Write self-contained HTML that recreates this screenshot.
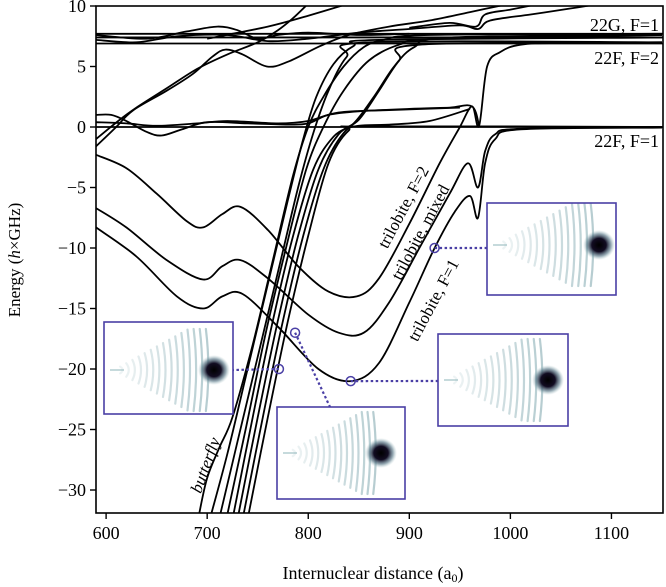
<!DOCTYPE html>
<html><head><meta charset="utf-8"><style>
html,body{margin:0;padding:0;background:#fff;}
svg{display:block;font-family:"Liberation Serif",serif;}
</style></head><body>
<svg id="chart" width="666" height="587" viewBox="0 0 666 587">
<defs>
<radialGradient id="blob"><stop offset="0" stop-color="#000"/><stop offset="0.45" stop-color="#120c22"/><stop offset="0.75" stop-color="#4f6f80" stop-opacity="0.6"/><stop offset="1" stop-color="#9fc0c4" stop-opacity="0"/></radialGradient>
<clipPath id="plotclip"><rect x="96" y="6" width="567" height="507"/></clipPath>
</defs>
<g id="curves" clip-path="url(#plotclip)"></g>
<g id="insets"></g>
<rect x="96" y="6" width="567" height="507" fill="none" stroke="#000" stroke-width="1.6"/>
<g id="axes"></g>
<text x="20" y="260" font-size="17" text-anchor="middle" transform="rotate(-90 20 260)">Energy (<tspan font-style="italic">h</tspan>×GHz)</text>
<text x="373" y="579" font-size="18" text-anchor="middle">Internuclear distance (a<tspan font-size="12" dy="3">0</tspan><tspan dy="-3">)</tspan></text>
<text x="659" y="31" font-size="18" text-anchor="end">22G, F=1</text>
<text x="659" y="64" font-size="18" text-anchor="end">22F, F=2</text>
<text x="659" y="147" font-size="18" text-anchor="end">22F, F=1</text>
<text x="403" y="213" font-size="17" text-anchor="middle" transform="rotate(-62 403 207)">trilobite, F=2</text>
<text x="420" y="238" font-size="17" text-anchor="middle" transform="rotate(-62 420 232)">trilobite, mixed</text>
<text x="433" y="306" font-size="17" text-anchor="middle" transform="rotate(-62 433 300)">trilobite, F=1</text>
<text x="205" y="471" font-size="17" font-style="italic" text-anchor="middle" transform="rotate(-70 205 465)">butterfly</text>
</svg>
<script>
const xTicks = [600,700,800,900,1000,1100];
const yTicks = [10,5,0,-5,-10,-15,-20,-25,-30];
const levelLines = [0, 6.9, 7.4, 7.7];
const triloF2 = [[590,-2.3],[620,-3.4],[650,-5.5],[680,-7.8],[696,-8.3],[715,-7.2],[733,-6.6],[760,-8.5],[790,-11.5],[820,-13.6],[848,-14],[870,-12.5],[900,-8],[930,-3],[950,0],[962,1.7],[969,0.1],[977,5],[990,6.2],[1010,6.8],[1050,6.95],[1150,6.95]];
const triloMixed = [[590,-6.7],[620,-8.3],[660,-11],[696,-12.6],[715,-11.5],[733,-11],[760,-12.5],[800,-15.5],[830,-17],[855,-17],[880,-14.5],[910,-10],[940,-5.5],[958,-3],[968,-5],[975,-2],[985,-0.6],[1010,-0.15],[1150,0]];
const triloF1 = [[590,-8.3],[630,-10.7],[670,-14],[696,-15],[715,-14],[735,-13.8],[770,-16.5],[810,-20],[842,-21],[870,-19.5],[900,-14.5],[925,-10],[945,-7],[960,-5.7],[968,-7.5],[975,-3],[985,-1],[1010,-0.2],[1150,-0.05]];
const b1 = [[692,-32],[700,-29],[712,-26.5],[725,-24],[745,-18],[765,-11],[785,-4],[800,0],[815,2.5],[835,5],[855,6.6],[875,7.2],[920,7.6],[1150,7.7]];
const b2 = [[704,-32],[720,-27],[740,-20],[760,-13],[780,-6],[795,-1],[808,2.5],[825,5.2],[845,6.7],[870,7.2],[1150,7.4]];
const b3 = [[713,-32],[730,-26],[750,-19],[770,-12],[790,-5],[805,-0.5],[820,3],[838,5.8],[860,7],[1150,7.0]];
const b4 = [[720,-32],[738,-25],[758,-17],[778,-10],[798,-3.5],[815,0],[835,3],[860,5.5],[890,6.8],[930,7.3],[1150,7.6]];
const b5 = [[726,-32],[745,-24],[765,-16],[785,-9],[805,-3.5],[825,-0.8],[845,0.3],[865,2.5],[885,5],[905,6.6],[940,7.4],[1150,7.6]];
const b6 = [[731,-32],[750,-24],[770,-16],[790,-9],[810,-3.5],[830,-0.6],[850,0.6],[870,3],[890,5.5],[910,6.8],[1150,7.0]];
const b7 = [[736,-32],[755,-24],[775,-16],[795,-9],[815,-3.5],[835,-0.5],[850,0.1],[880,0.2],[920,0.5],[960,1.5]];
const b8 = [[741,-32],[760,-24],[780,-16],[800,-9],[820,-3],[840,-0.3],[860,0.05],[1150,0.0]];
const u1 = [[590,-1.6],[610,0],[627,1.4],[660,3],[686,4.4],[705,5.8],[718,6.4],[735,6],[759,5],[780,5.4],[812,6.7],[840,7.6],[880,8.3],[920,8.8],[960,9.5],[1000,10.2]];
const u2 = [[590,-1.0],[612,0.5],[630,1.6],[660,3.2],[690,4.8],[720,6],[750,7],[770,8],[785,9],[800,10.2]];
const u4 = [[700,7.3],[760,8.3],[800,9.2],[840,10.2]];
const z1 = [[590,1.0],[605,1.0],[620,0.5],[640,-0.4],[655,-0.7],[675,-0.2],[700,0.4],[740,0.3],[780,0.2],[800,0.3],[820,1.0],[850,1.3],[900,1.5],[940,1.6],[962,1.7],[969,0.1]];
const z2 = [[590,0.4],[620,0.3],[650,0.1],[690,0.3],[720,0.5],[770,0.3],[800,0.5],[830,1.2],[880,1.4],[950,1.6]];
const w1 = [[590,7.6],[640,7.3],[680,7.9],[710,8.3],[730,8],[750,7.3],[770,7.6],[800,7.8],[850,7.6],[900,7.7]];
const w2 = [[590,7.2],[630,7.0],[670,7.5],[720,7.6],[760,7.1],[800,7.3],[850,7.8],[900,8.1],[950,8.4],[968,8.1],[980,8.8],[1020,9.3],[1060,9.8],[1090,10.2]];
const w3 = [[900,8.2],[940,8.6],[966,8.3],[975,9.3],[1000,9.7],[1030,10.2]];
const markers = [[771,-20],[787,-17],[842,-21],[925,-10]];

const NS = "http://www.w3.org/2000/svg";
const X0 = 96, XR = 663, YT = 6, YB = 513, xmin = 590, xmax = 1151, ymin = -31.9, ymax = 10;
function sx(v){ return X0 + (v - xmin) / (xmax - xmin) * (XR - X0); }
function sy(v){ return YB - (v - ymin) / (ymax - ymin) * (YB - YT); }
function mk(tag, attrs, parent){ const e = document.createElementNS(NS, tag); for (const k in attrs) e.setAttribute(k, attrs[k]); parent.appendChild(e); return e; }
function smoothPath(data){
  const p = data.map(d => [sx(d[0]), sy(d[1])]);
  let s = "M" + p[0][0].toFixed(1) + "," + p[0][1].toFixed(1);
  for (let i = 0; i < p.length - 1; i++){
    const a = p[Math.max(0,i-1)], b = p[i], c = p[i+1], d = p[Math.min(p.length-1,i+2)];
    const c1 = [b[0] + (c[0]-a[0])/6, b[1] + (c[1]-a[1])/6];
    const c2 = [c[0] - (d[0]-b[0])/6, c[1] - (d[1]-b[1])/6];
    s += " C" + c1[0].toFixed(1)+","+c1[1].toFixed(1)+" "+c2[0].toFixed(1)+","+c2[1].toFixed(1)+" "+c[0].toFixed(1)+","+c[1].toFixed(1);
  }
  return s;
}
const curvesG = document.getElementById("curves");
levelLines.forEach(v => {
  const l = mk("line", {x1: X0, x2: XR, y1: sy(v), y2: sy(v), stroke: "#000", "stroke-width": 1.8}, curvesG);
  
  
});
const series = [["trilobite-f2-curve",triloF2],["trilobite-mixed-curve",triloMixed],["trilobite-f1-curve",triloF1],["butterfly-curve-1",b1],["butterfly-curve-2",b2],["butterfly-curve-3",b3],["butterfly-curve-4",b4],["butterfly-curve-5",b5],["butterfly-curve-6",b6],["butterfly-curve-7",b7],["butterfly-curve-8",b8],["upper-curve-1",u1],["upper-curve-2",u2],["upper-curve-3",u4],["near-zero-curve-1",z1],["near-zero-curve-2",z2],["upper-wiggle-1",w1],["upper-wiggle-2",w2],["upper-wiggle-3",w3]];
series.forEach(([name, d]) => {
  const p = mk("path", {d: smoothPath(d), fill: "none", stroke: "#000", "stroke-width": 1.8}, curvesG);
  
  
});
const axesG = document.getElementById("axes");
xTicks.forEach(v => {
  const t = mk("line", {x1: sx(v), x2: sx(v), y1: YB, y2: YB + 6, stroke: "#000", "stroke-width": 1.4}, axesG);
  
  
  const lab = mk("text", {x: sx(v), y: YB + 26, "font-size": 18, "text-anchor": "middle"}, axesG);
  lab.textContent = v;
  
  
});
yTicks.forEach(v => {
  const t = mk("line", {x1: X0 - 6, x2: X0, y1: sy(v), y2: sy(v), stroke: "#000", "stroke-width": 1.4}, axesG);
  
  
  const lab = mk("text", {x: X0 - 10, y: sy(v) + 6, "font-size": 18, "text-anchor": "end"}, axesG);
  lab.textContent = v < 0 ? "\u2212" + Math.abs(v) : v;
  
  
});
const insG = document.getElementById("insets");
const insetBoxes = [[104,322,129,92,214,370],[277,407,128,92,381,453],[438,334,130,92,548,380],[487,203,129,92,599,245]];
const connectors = [[233,370],[330,407],[438,381],[487,248]];
markers.forEach((m, i) => {
  const cx = sx(m[0]), cy = sy(m[1]);
  const ln = mk("line", {x1: cx, y1: cy, x2: connectors[i][0], y2: connectors[i][1], stroke: "#4a3fa5", "stroke-width": 2.2, "stroke-dasharray": "2.5,2.5"}, insG);
  
  
});
insetBoxes.forEach((b, i) => {
  const g = mk("g", {}, insG);
  
  
  mk("rect", {x: b[0], y: b[1], width: b[2], height: b[3], fill: "#fff"}, g);
  const ax = b[0] + 12, ay = b[5];
  const L = b[4] - ax;
  for (let k = 1; k <= 15; k++){
    const x = ax + L * k / 16;
    const h = Math.min((x - ax) * 0.55, b[3]/2 - 5);
    mk("path", {d: "M"+(x-2)+","+(ay-h)+" Q"+(x+3)+","+ay+" "+(x-2)+","+(ay+h), fill: "none", stroke: "#8fb2b8", "stroke-width": 2.2, "stroke-linecap": "round", "stroke-opacity": 0.12 + k*0.035}, g);
  }
  mk("line", {x1: ax - 6, y1: ay, x2: ax + 8, y2: ay, stroke: "#9fc0c4", "stroke-width": 1.2}, g);
  mk("ellipse", {cx: b[4], cy: b[5], rx: 16, ry: 15, fill: "url(#blob)"}, g);
  mk("rect", {x: b[0], y: b[1], width: b[2], height: b[3], fill: "none", stroke: "#4a3fa5", "stroke-width": 1.6}, g);
});
markers.forEach(m => {
  const c = mk("circle", {cx: sx(m[0]), cy: sy(m[1]), r: 4.5, fill: "none", stroke: "#4a3fa5", "stroke-width": 1.5}, insG);
  
  
});
</script>
</body></html>
